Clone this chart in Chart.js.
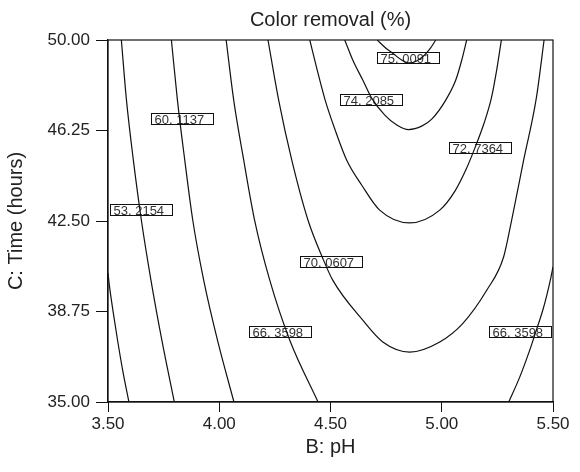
<!DOCTYPE html>
<html>
<head>
<meta charset="utf-8">
<script src="https://cdn.jsdelivr.net/npm/chart.js@4.4.1/dist/chart.umd.min.js"></script>
<style>
  body { margin: 0; background: #fff; }
  #wrap { width: 580px; height: 472px; }
</style>
</head>
<body>
<div id="wrap"><canvas id="contourChart" width="580" height="472"></canvas></div>
<script>
// axis ticks
const xTicks = [3.5, 4.0, 4.5, 5.0, 5.5];
const yTicks = [35, 38.75, 42.5, 46.25, 50];

// contour lines, [pH, time], ordered by pH
const contourEdge = [[3.500, 40.34], [3.506, 39.84], [3.522, 38.80], [3.543, 37.56], [3.566, 36.31], [3.594, 35.00]];
const contour53 = [[3.560, 50.00], [3.583, 47.51], [3.614, 45.02], [3.650, 42.53], [3.693, 40.05], [3.742, 37.56], [3.798, 35.00]];
const contour60 = [[3.785, 50.00], [3.812, 47.51], [3.845, 45.02], [3.881, 42.53], [3.930, 40.05], [3.992, 37.56], [4.066, 35.00]];
const contour66 = [[4.031, 50.00], [4.065, 47.51], [4.110, 45.02], [4.159, 42.53], [4.227, 40.05], [4.317, 37.56], [4.444, 35.00]];
const contour66b = [[5.301, 35.00], [5.350, 36.02], [5.395, 37.14], [5.422, 37.89], [5.454, 38.80], [5.472, 39.42], [5.490, 40.13], [5.500, 40.60]];
const contour70 = [[4.219, 50.00], [4.267, 47.51], [4.326, 45.02], [4.399, 42.53], [4.465, 40.96], [4.510, 40.05], [4.645, 38.39],
    [4.735, 37.49], [4.856, 37.07], [4.991, 37.49], [5.094, 38.25], [5.202, 39.63], [5.278, 41.01], [5.314, 42.53],
    [5.368, 45.02], [5.425, 47.59], [5.460, 50.00]];
const contour72 = [[4.407, 50.00], [4.440, 48.76], [4.476, 47.51], [4.521, 46.27], [4.573, 45.02], [4.640, 43.99], [4.721, 42.95],
    [4.856, 42.42], [4.991, 42.95], [5.060, 43.75], [5.110, 44.65], [5.150, 45.55], [5.190, 46.55], [5.223, 47.59],
    [5.247, 48.76], [5.268, 50.00]];
const contour74 = [[4.564, 50.00], [4.600, 49.17], [4.645, 48.34], [4.685, 47.59], [4.744, 46.89], [4.798, 46.48], [4.851, 46.29],
    [4.910, 46.43], [4.955, 46.72], [5.018, 47.51], [5.063, 48.34], [5.090, 49.17], [5.112, 50.00]];
const contour75 = [[4.710, 50.00], [4.748, 49.67], [4.784, 49.42], [4.820, 49.17], [4.851, 49.05], [4.887, 49.13], [4.923, 49.38],
    [4.950, 49.67], [4.973, 50.00]];

// contour value labels
const labelText = ['53. 2154', '60. 1137', '74. 2085', '75. 0091', '72. 7364', '70. 0607', '66. 3598', '66. 3598'];
const labelX = [3.647, 3.833, 4.680, 4.849, 5.174, 4.503, 4.274, 5.353];
const labelY = [42.98, 46.74, 47.54, 49.29, 45.53, 40.81, 37.92, 37.92];

const fontFamily = '"Liberation Sans", Arial, Helvetica, sans-serif';
const textColor = '#222';

function toPoints(line) {
    return line.map(p => ({ x: p[0], y: p[1] }));
}

const lines = [contourEdge, contour53, contour60, contour66, contour66b, contour70, contour72, contour74, contour75];

const contourLabels = {
    id: 'contourLabels',
    beforeDatasetsDraw(chart) {
        const ctx = chart.ctx;
        const xs = chart.scales.x;
        const ys = chart.scales.y;
        ctx.save();
        ctx.font = '13px ' + fontFamily;
        ctx.textBaseline = 'middle';
        ctx.textAlign = 'left';
        labelText.forEach((txt, i) => {
            const px = xs.getPixelForValue(labelX[i]);
            const py = ys.getPixelForValue(labelY[i]);
            const w = 62, h = 11;
            const left = Math.round(px - w / 2) + 0.5;
            const top = Math.round(py - h / 2) + 0.5;
            ctx.fillStyle = '#fff';
            ctx.fillRect(left, top, w, h);
            ctx.strokeStyle = '#111';
            ctx.lineWidth = 1;
            ctx.strokeRect(left, top, w, h);
            ctx.fillStyle = '#333';
            ctx.fillText(txt, left + 3, top + h / 2 + 1);
        });
        ctx.restore();
    }
};

const frame = {
    id: 'frame',
    afterDraw(chart) {
        const a = chart.chartArea;
        const ctx = chart.ctx;
        ctx.save();
        ctx.strokeStyle = '#111';
        ctx.lineWidth = 1.2;
        ctx.strokeRect(a.left, a.top, a.right - a.left, a.bottom - a.top);
        ctx.restore();
    }
};

new Chart(document.getElementById('contourChart'), {
    type: 'scatter',
    data: {
        datasets: lines.map(line => ({
            data: toPoints(line),
            showLine: true,
            borderColor: '#111',
            borderWidth: 1.2,
            pointRadius: 0,
            cubicInterpolationMode: 'monotone',
            fill: false
        }))
    },
    options: {
        responsive: false,
        animation: false,
        layout: { padding: { left: 0, right: 27, top: 0, bottom: 0 } },
        plugins: {
            legend: { display: false },
            tooltip: { enabled: false },
            title: {
                display: true,
                fullSize: false,
                text: 'Color removal (%)',
                color: textColor,
                font: { family: fontFamily, size: 20, weight: 'normal' },
                padding: { top: 8, bottom: 8 }
            }
        },
        scales: {
            x: {
                type: 'linear',
                min: 3.5,
                max: 5.5,
                afterBuildTicks: s => { s.ticks = xTicks.map(v => ({ value: v })); },
                afterFit: s => { s.height = 70; },
                ticks: {
                    color: textColor,
                    font: { family: fontFamily, size: 17 },
                    padding: 2,
                    callback: v => v.toFixed(2)
                },
                grid: { drawOnChartArea: false, drawTicks: true, tickLength: 10, color: '#111' },
                border: { display: true, color: '#111', width: 1.2 },
                title: {
                    display: true,
                    text: 'B: pH',
                    color: textColor,
                    font: { family: fontFamily, size: 20 },
                    padding: { top: 0, bottom: 13 }
                }
            },
            y: {
                type: 'linear',
                min: 35,
                max: 50,
                afterBuildTicks: s => { s.ticks = yTicks.map(v => ({ value: v })); },
                afterFit: s => { s.width = 108; },
                ticks: {
                    color: textColor,
                    font: { family: fontFamily, size: 17 },
                    padding: 6,
                    callback: v => v.toFixed(2)
                },
                grid: { drawOnChartArea: false, drawTicks: true, tickLength: 12, color: '#111' },
                border: { display: true, color: '#111', width: 1.2 },
                title: {
                    display: true,
                    text: 'C: Time (hours)',
                    color: textColor,
                    font: { family: fontFamily, size: 20 },
                    padding: { top: 4, bottom: 0 }
                }
            }
        }
    },
    plugins: [contourLabels, frame]
});
</script>
</body>
</html>
